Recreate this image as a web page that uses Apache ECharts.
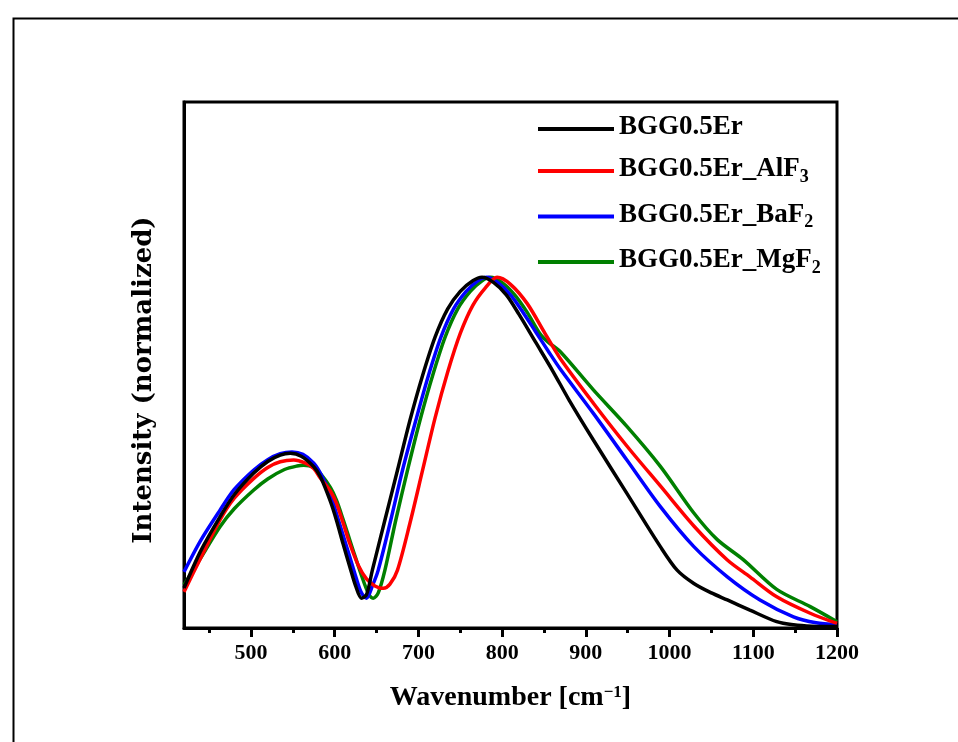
<!DOCTYPE html>
<html>
<head>
<meta charset="utf-8">
<script src="https://cdn.jsdelivr.net/npm/echarts@6/dist/echarts.min.js"></script>
<style>html,body{margin:0;padding:0;background:#fff;}#c{width:958px;height:742px;}</style>
</head>
<body>
<div id="c"></div>
<script>
// ---- data ----
const seriesNames = ['BGG0.5Er', 'BGG0.5Er_AlF3', 'BGG0.5Er_BaF2', 'BGG0.5Er_MgF2'];
const seriesColors = ['#000000', '#ff0000', '#0000ff', '#008000'];
const majorTicks = [500, 600, 700, 800, 900, 1000, 1100, 1200];
const minorTicks = [450, 550, 650, 750, 850, 950, 1050, 1150];

const wnBGG = [420,440,463,480,503,520,535,547,560,575,583,595,602,610,618,625,632,638,645,660,675,690,705,720,735,750,765,776,790,805,820,840,860,880,909,949,989,1009,1029,1050,1069,1096,1128,1148,1170,1200];
const inBGG = [0.114,0.22,0.317,0.38,0.441,0.475,0.493,0.498,0.49,0.46,0.431,0.36,0.308,0.24,0.175,0.12,0.085,0.095,0.165,0.308,0.45,0.593,0.72,0.83,0.91,0.96,0.99,1.0,0.985,0.95,0.895,0.815,0.735,0.65,0.536,0.384,0.232,0.165,0.127,0.1,0.08,0.051,0.018,0.009,0.005,0.004];

const wnAlF = [420,440,463,480,503,520,535,551,565,575,583,595,602,610,618,628,638,648,658,666,675,690,705,720,735,750,765,780,794,810,830,850,869,909,949,989,1029,1069,1096,1128,1168,1200];
const inAlF = [0.103,0.2,0.308,0.37,0.426,0.458,0.474,0.479,0.47,0.455,0.427,0.39,0.356,0.3,0.241,0.18,0.14,0.12,0.113,0.125,0.165,0.3,0.45,0.6,0.73,0.84,0.92,0.97,1.0,0.98,0.925,0.845,0.77,0.641,0.519,0.405,0.291,0.194,0.146,0.089,0.042,0.013];

const wnBaF = [420,440,463,480,503,520,535,549,562,575,583,595,602,610,618,626,632,638,645,652,667,681,697,712,727,742,757,771,782,795,810,825,840,855,869,909,949,989,1029,1069,1108,1148,1175,1200];
const inBaF = [0.16,0.25,0.336,0.395,0.45,0.48,0.497,0.502,0.495,0.47,0.441,0.38,0.327,0.265,0.203,0.14,0.1,0.085,0.12,0.165,0.308,0.45,0.593,0.72,0.83,0.91,0.96,0.99,1.0,0.985,0.95,0.9,0.845,0.79,0.74,0.612,0.479,0.346,0.232,0.146,0.08,0.032,0.015,0.009];

const wnMgF = [420,440,463,480,503,520,540,555,563,575,583,595,602,610,618,625,632,640,646,652,660,673,687,702,717,732,747,762,776,786,800,815,830,845,855,869,909,949,989,1029,1057,1088,1128,1168,1200];
const inMgF = [0.123,0.2,0.289,0.34,0.393,0.425,0.452,0.462,0.464,0.458,0.44,0.4,0.365,0.31,0.251,0.2,0.15,0.1,0.085,0.1,0.165,0.308,0.45,0.593,0.72,0.83,0.91,0.96,0.99,1.0,0.985,0.95,0.9,0.84,0.815,0.789,0.679,0.575,0.461,0.328,0.252,0.195,0.11,0.061,0.018];

const xs = [wnBGG, wnAlF, wnBaF, wnMgF];
const ys = [inBGG, inAlF, inBaF, inMgF];

// ---- chart ----
const SERIF = '"Liberation Serif", "DejaVu Serif", serif';
const chart = echarts.init(document.getElementById('c'), null, {renderer: 'canvas'});

const legendCenters = [129, 169.5, 215, 260.5];
const legendHeights = [30, 33, 33, 33];

function legendFormatter(name) {
  const m = name.match(/^(.*F)(\d)$/);
  return m ? '{b|' + m[1] + '}{s|' + m[2] + '}' : '{b|' + name + '}';
}

const legends = seriesNames.map((n, i) => ({
  data: [n],
  left: 538,
  top: legendCenters[i] - legendHeights[i] / 2,
  padding: 0,
  icon: 'rect',
  itemWidth: 76,
  itemHeight: 4,
  selectedMode: false,
  formatter: legendFormatter,
  textStyle: {
    color: '#000',
    rich: {
      b: {fontFamily: SERIF, fontWeight: 'bold', fontSize: 27, color: '#000', lineHeight: 30, verticalAlign: 'top'},
      s: {fontFamily: SERIF, fontWeight: 'bold', fontSize: 18, color: '#000', lineHeight: 18, padding: [15, 0, 0, 0], verticalAlign: 'bottom'}
    }
  }
}));

const option = {
  animation: false,
  backgroundColor: '#fff',
  grid: {left: 184, right: 121, top: 102, bottom: 114, show: true, borderColor: '#000', borderWidth: 3, backgroundColor: 'transparent'},
  legend: legends,
  xAxis: [{
    type: 'value', min: 420, max: 1200,
    name: 'Wavenumber [cm{sup|−1}]',
    nameLocation: 'middle', nameGap: 56,
    nameTextStyle: {
      fontFamily: SERIF, fontWeight: 'bold', fontSize: 28, color: '#000',
      rich: {sup: {fontFamily: SERIF, fontWeight: 'bold', fontSize: 17, color: '#000', verticalAlign: 'top', lineHeight: 17}}
    },
    axisLine: {show: true, lineStyle: {color: '#000', width: 3}},
    axisTick: {show: true, inside: false, length: 9, lineStyle: {color: '#000', width: 3}, customValues: majorTicks},
    axisLabel: {show: true, margin: 14, fontFamily: SERIF, fontWeight: 'bold', fontSize: 22, color: '#000', customValues: majorTicks, formatter: v => String(v)},
    splitLine: {show: false}
  }, {
    type: 'value', min: 420, max: 1200, position: 'bottom',
    axisLine: {show: false},
    axisTick: {show: true, inside: false, length: 5, lineStyle: {color: '#000', width: 3}, customValues: minorTicks},
    axisLabel: {show: false},
    splitLine: {show: false}
  }],
  yAxis: {
    type: 'value', min: 0, max: 1.5,
    axisLine: {show: true, lineStyle: {color: '#000', width: 3}},
    axisTick: {show: false}, axisLabel: {show: false}, splitLine: {show: false}
  },
  graphic: [
    {type: 'rect', left: 11, top: 16, shape: {x: 0, y: 0, width: 1000, height: 800}, style: {fill: 'none', stroke: '#000', lineWidth: 2}, silent: true, z: -10},
    {type: 'text', x: 144, y: 380, rotation: Math.PI / 2,
     style: {text: 'Intensity (normalized)', font: 'bold 26px "DejaVu Serif", serif', fill: '#000', textAlign: 'center', textVerticalAlign: 'middle', align: 'center', verticalAlign: 'middle'}}
  ],
  series: seriesNames.map((n, i) => ({
    name: n, type: 'line', xAxisIndex: 0,
    data: xs[i].map((x, k) => [x, ys[i][k]]),
    smooth: 0.3, showSymbol: false, symbol: 'none', clip: true,
    lineStyle: {color: seriesColors[i], width: 3.5},
    itemStyle: {color: seriesColors[i]},
    z: 4 - i
  }))
};
chart.setOption(option);
</script>
</body>
</html>
